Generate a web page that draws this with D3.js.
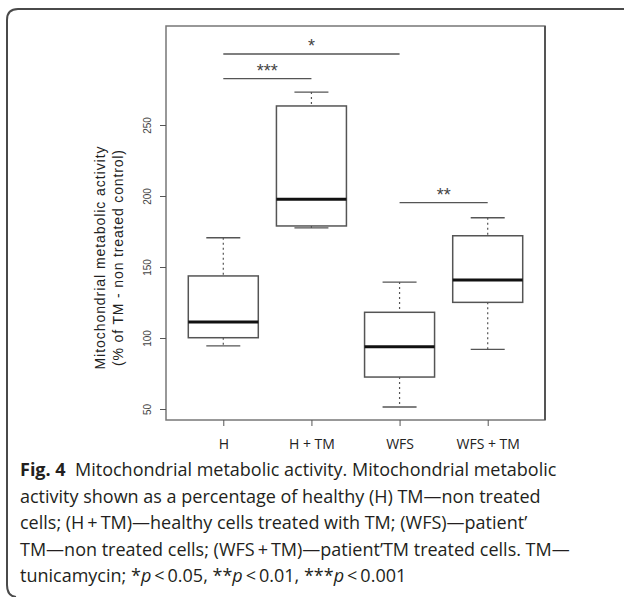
<!DOCTYPE html>
<html>
<head>
<meta charset="utf-8">
<script src="https://cdn.jsdelivr.net/npm/d3@7"></script>
<style>
  body { margin: 0; background: #fff; }
  svg { display: block; }
</style>
</head>
<body>
<div id="chart"></div>
<script>
// data
var categories = ["H", "H + TM", "WFS", "WFS + TM"];
var lowerWhisker = [94.4, 177.5, 51.4, 92.0];
var q1Values = [100.2, 178.9, 72.5, 125.1];
var medianValues = [111.3, 197.7, 93.9, 140.8];
var q3Values = [143.7, 263.4, 118.1, 172.0];
var upperWhisker = [170.6, 273.2, 139.4, 184.7];
var yTicks = [50, 100, 150, 200, 250];

// significance brackets
var sigFrom = ["H", "H", "WFS"];
var sigTo = ["WFS", "H + TM", "WFS + TM"];
var sigLevel = [300, 282.6, 195.3];
var sigLabel = ["*", "***", "**"];

var yTitleLines = ["Mitochondrial metabolic activity", "(% of TM - non treated control)"];

// caption: "**" marks bold, "_" marks italic
var captionLines = [
  "**Fig. 4**  Mitochondrial metabolic activity. Mitochondrial metabolic",
  "activity shown as a percentage of healthy (H) TM\u2014non treated",
  "cells; (H\u2009+\u2009TM)\u2014healthy cells treated with TM; (WFS)\u2014patient\u2019",
  "TM\u2014non treated cells; (WFS\u2009+\u2009TM)\u2014patient\u2019TM treated cells. TM\u2014",
  "tunicamycin; *_p_\u2009<\u20090.05, \u2217\u2217_p_\u2009<\u20090.01, \u2217\u2217\u2217_p_\u2009<\u20090.001"
];

var width = 624, height = 597;
var plot = { left: 166, top: 26, right: 545, bottom: 420 };

var svg = d3.select("#chart").append("svg")
  .attr("width", width)
  .attr("height", height);

// outer figure frame (rounded left corners)
svg.append("path")
  .attr("d", "M624,9 L18,9 Q7,9 7,20 L7,585 Q7,596 16,597")
  .attr("fill", "none")
  .attr("stroke", "#4a4a4a")
  .attr("stroke-width", 2);

var y = d3.scaleLinear().domain([50, 250]).range([409, 125]);
var x = d3.scalePoint().domain(categories).range([plot.left, plot.right]).padding(0.65);

var boxW = 70, capW = 34;

// plot border
svg.append("rect")
  .attr("x", plot.left).attr("y", plot.top)
  .attr("width", plot.right - plot.left).attr("height", plot.bottom - plot.top)
  .attr("fill", "none").attr("stroke", "#777").attr("stroke-width", 1.5);
svg.append("line")
  .attr("x1", plot.right).attr("x2", plot.right)
  .attr("y1", plot.top).attr("y2", plot.bottom)
  .attr("stroke", "#555").attr("stroke-width", 2);

// y axis
var yAxis = svg.append("g")
  .attr("transform", "translate(" + plot.left + ",0)")
  .call(d3.axisLeft(y).tickValues(yTicks).tickSize(6).tickSizeOuter(0));
yAxis.select(".domain").remove();
yAxis.selectAll(".tick line").attr("stroke", "#555");
yAxis.selectAll(".tick text")
  .attr("transform", "rotate(-90)")
  .attr("x", 0).attr("y", -15).attr("dy", 0)
  .attr("text-anchor", "middle")
  .attr("fill", "#444")
  .style("font-family", "'Liberation Sans', Arial, sans-serif")
  .style("font-size", "10px");

// x axis
var xAxis = svg.append("g")
  .attr("transform", "translate(0," + plot.bottom + ")")
  .call(d3.axisBottom(x).tickSize(6).tickSizeOuter(0));
xAxis.select(".domain").remove();
xAxis.selectAll(".tick line").attr("stroke", "#555");
xAxis.selectAll(".tick text")
  .attr("y", 29).attr("dy", 0)
  .attr("fill", "#222")
  .style("font-family", "'Open Sans', sans-serif")
  .style("font-size", "14px");

// y axis title (two lines)
var titleLen = [223, 216];
yTitleLines.forEach(function (s, i) {
  svg.append("text")
    .attr("transform", "translate(" + (105 + i * 18) + ",258) rotate(-90)")
    .attr("text-anchor", "middle")
    .attr("fill", "#222")
    .attr("textLength", titleLen[i])
    .attr("lengthAdjust", "spacing")
    .style("font-family", "'Liberation Sans', Arial, sans-serif")
    .style("font-size", "14px")
    .text(s);
});

// boxes
var boxes = svg.selectAll(".box_group")
  .data(categories)
  .enter().append("g").attr("class", "box_group")
  .attr("transform", d => "translate(" + x(d) + ",0)");

boxes.append("line").attr("class", "whisker")
  .attr("x1", 0).attr("x2", 0)
  .attr("y1", (d, i) => y(upperWhisker[i])).attr("y2", (d, i) => y(q3Values[i]))
  .attr("stroke", "#555").attr("stroke-width", 1.2).attr("stroke-dasharray", "2,3");
boxes.append("line").attr("class", "whisker")
  .attr("x1", 0).attr("x2", 0)
  .attr("y1", (d, i) => y(q1Values[i])).attr("y2", (d, i) => y(lowerWhisker[i]))
  .attr("stroke", "#555").attr("stroke-width", 1.2).attr("stroke-dasharray", "2,3");
boxes.append("line")
  .attr("x1", -capW / 2).attr("x2", capW / 2)
  .attr("y1", (d, i) => y(upperWhisker[i])).attr("y2", (d, i) => y(upperWhisker[i]))
  .attr("stroke", "#555").attr("stroke-width", 1.3);
boxes.append("line")
  .attr("x1", -capW / 2).attr("x2", capW / 2)
  .attr("y1", (d, i) => y(lowerWhisker[i])).attr("y2", (d, i) => y(lowerWhisker[i]))
  .attr("stroke", "#555").attr("stroke-width", 1.3);
boxes.append("rect")
  .attr("x", -boxW / 2).attr("width", boxW)
  .attr("y", (d, i) => y(q3Values[i]))
  .attr("height", (d, i) => y(q1Values[i]) - y(q3Values[i]))
  .attr("fill", "#fff").attr("stroke", "#555").attr("stroke-width", 1.5);
boxes.append("line")
  .attr("x1", -boxW / 2).attr("x2", boxW / 2)
  .attr("y1", (d, i) => y(medianValues[i])).attr("y2", (d, i) => y(medianValues[i]))
  .attr("stroke", "#111").attr("stroke-width", 3);

// significance lines
var sig = svg.selectAll(".sig_group")
  .data(sigLabel)
  .enter().append("g").attr("class", "sig_group");
sig.append("line")
  .attr("x1", (d, i) => x(sigFrom[i])).attr("x2", (d, i) => x(sigTo[i]))
  .attr("y1", (d, i) => y(sigLevel[i])).attr("y2", (d, i) => y(sigLevel[i]))
  .attr("stroke", "#555").attr("stroke-width", 1.3);
sig.append("text")
  .attr("x", (d, i) => (x(sigFrom[i]) + x(sigTo[i])) / 2)
  .attr("y", (d, i) => y(sigLevel[i]) - 2)
  .attr("text-anchor", "middle")
  .attr("fill", "#444")
  .style("font-family", "'Liberation Sans', Arial, sans-serif")
  .style("font-size", "18px")
  .text(d => d);

// caption
var cap = svg.append("g").attr("class", "caption");
captionLines.forEach(function (ln, i) {
  var t = cap.append("text")
    .attr("x", 20).attr("y", 476 + i * 26.6)
    .attr("fill", "#231f20")
    .attr("xml:space", "preserve")
    .style("white-space", "pre")
    .style("font-family", "'Open Sans', sans-serif")
    .style("font-size", "18px");
  ln.split("**").forEach(function (part, j) {
    part.split("_").forEach(function (seg, k) {
      if (!seg) return;
      t.append("tspan")
        .style("font-weight", j % 2 ? "bold" : null)
        .style("font-style", k % 2 ? "italic" : null)
        .text(seg.replace(/\u2217/g, "*"));
    });
  });
});
</script>
</body>
</html>
